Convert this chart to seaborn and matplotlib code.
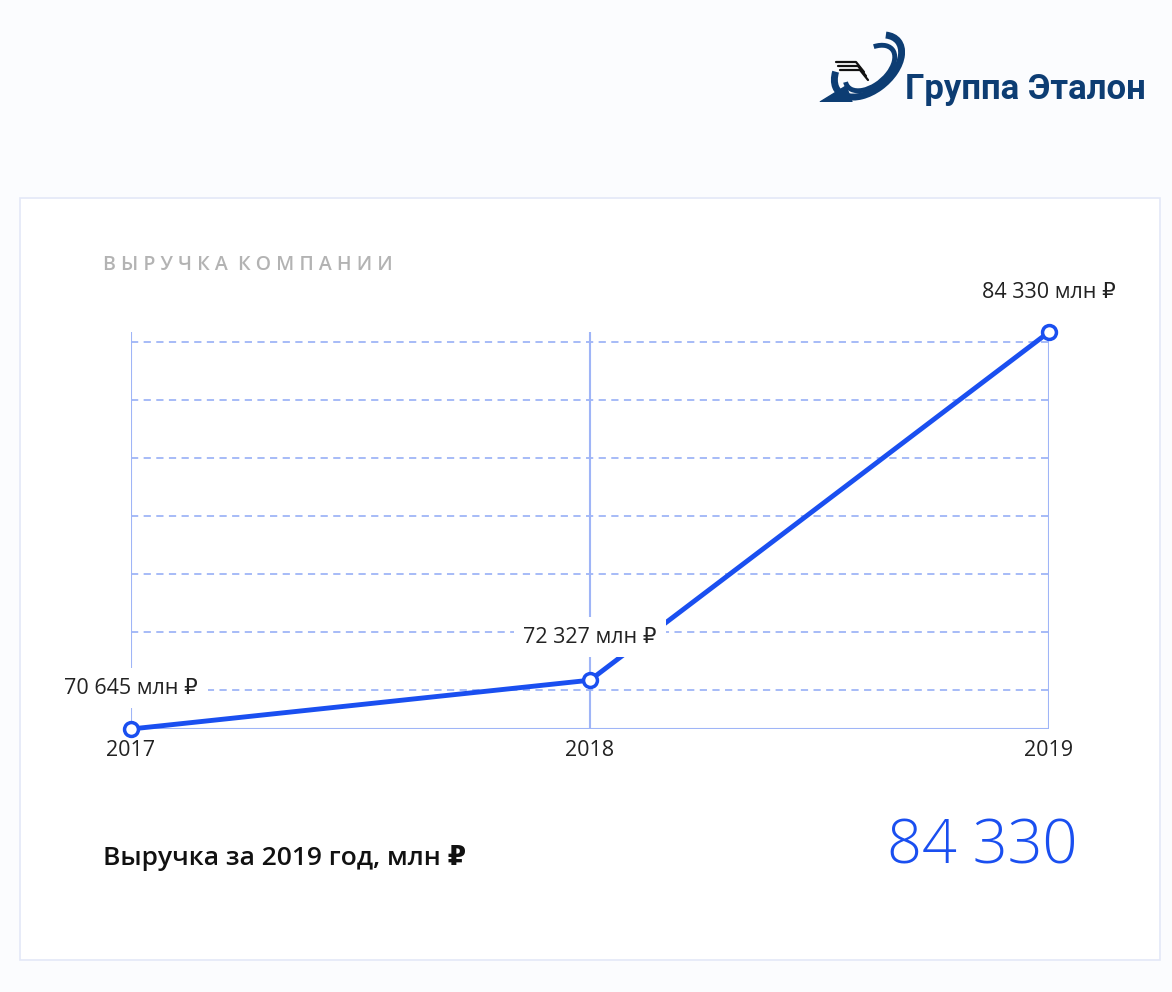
import matplotlib
matplotlib.use("Agg")
import matplotlib.pyplot as plt
import seaborn as sns
import pandas as pd
from matplotlib.patches import FancyBboxPatch, Arc, Polygon

years = [2017, 2018, 2019]
revenue = [70645, 72327, 84330]
labels = ["70 645 млн ₽", "72 327 млн ₽", "84 330 млн ₽"]
grid_vals = [72000, 74000, 76000, 78000, 80000, 82000, 84000]

sns.set_theme(style="white")
plt.rcParams['font.family'] = ['Open Sans', 'DejaVu Sans']

BLUE = "#1a4ff0"
GRID = "#9fb5f7"

fig = plt.figure(figsize=(11.72, 9.92), dpi=100)
fig.patch.set_facecolor("#fbfcfe")
W, H = 1172, 992
def fx(x): return x / W
def fy(y): return 1 - y / H

card = FancyBboxPatch((fx(20), fy(960)), fx(1160) - fx(20), fy(198) - fy(960),
                      boxstyle="square,pad=0", transform=fig.transFigure,
                      facecolor="white", edgecolor="#e3e8f7", lw=1.2, zorder=-10)
fig.patches.append(card)

ax = fig.add_axes([fx(131), fy(729), fx(1049) - fx(131), fy(332) - fy(729)])
ax.set_zorder(2)
ax.set_facecolor("none")
df = pd.DataFrame({"year": years, "revenue": revenue})
for g in grid_vals:
    ax.axhline(g, color=GRID, lw=1.3, ls=(0, (4, 3)), zorder=1)
for yv in years:
    ax.axvline(yv, color=GRID, lw=1.5, zorder=1)
ax.axhline(70645, color=GRID, lw=1.5, zorder=1)
sns.lineplot(data=df, x="year", y="revenue", ax=ax, color=BLUE, lw=3.5,
             marker="o", markersize=10, markerfacecolor="white",
             markeredgecolor=BLUE, markeredgewidth=2.5, zorder=5, clip_on=False)
ax.set_xlim(2017, 2019)
ax.set_ylim(70645, 84330)
offsets = [(0, 41), (0, 43), (0, 39)]
for (x, y, t, (dx, dy)) in zip(years, revenue, labels, offsets):
    ax.annotate(t, (x, y), xytext=(dx, dy), textcoords="offset pixels",
                ha="center", va="center", fontsize=15.5, color="#222222",
                bbox=dict(facecolor="white", edgecolor="none", pad=7), zorder=6)
for s in ax.spines.values():
    s.set_visible(False)
ax.set_xticks(years)
ax.set_xticklabels([str(y) for y in years], fontsize=15.5, color="#222222")
ax.tick_params(axis="x", length=0, pad=8)
ax.set_yticks([])
ax.set_xlabel(""); ax.set_ylabel("")

fig.text(fx(103), fy(265), "В Ы Р У Ч К А  К О М П А Н И И",
         fontsize=14, color="#b3b3b3", fontweight="semibold", va="center", ha="left")
fig.text(fx(103), fy(858), "Выручка за 2019 год, млн ₽", fontsize=19,
         fontweight="semibold", color="#111111", va="center", ha="left")
fig.text(fx(1077), fy(848), "84 330", fontsize=44, fontweight="light",
         color=BLUE, va="center", ha="right")

NAVY = "#0d3d73"
fig.text(fx(905), fy(90), "Группа Эталон", fontsize=25, fontweight="bold",
         color=NAVY, va="center", ha="left", family=['Roboto', 'DejaVu Sans'])
lax = fig.add_axes([fx(818), fy(102), fx(905) - fx(818), fy(30) - fy(102)])
lax.set_xlim(0, 87); lax.set_ylim(0, 72); lax.axis("off")
lax.add_patch(Arc((50, 36), 78, 48, angle=40, theta1=150, theta2=20, lw=5, color=NAVY))
lax.add_patch(Arc((52, 34), 58, 34, angle=40, theta1=170, theta2=40, lw=3.5, color=NAVY))
lax.add_patch(Polygon([[2, 0], [34, 0], [28, 16]], color=NAVY))
for i in range(3):
    lax.plot([18 + i * 2, 38 + i * 2, 46 + i * 2], [40 - i * 4, 40 - i * 4, 30 - i * 4], color="#111", lw=1.6)

fig.savefig("out.png", dpi=100, facecolor=fig.get_facecolor())
